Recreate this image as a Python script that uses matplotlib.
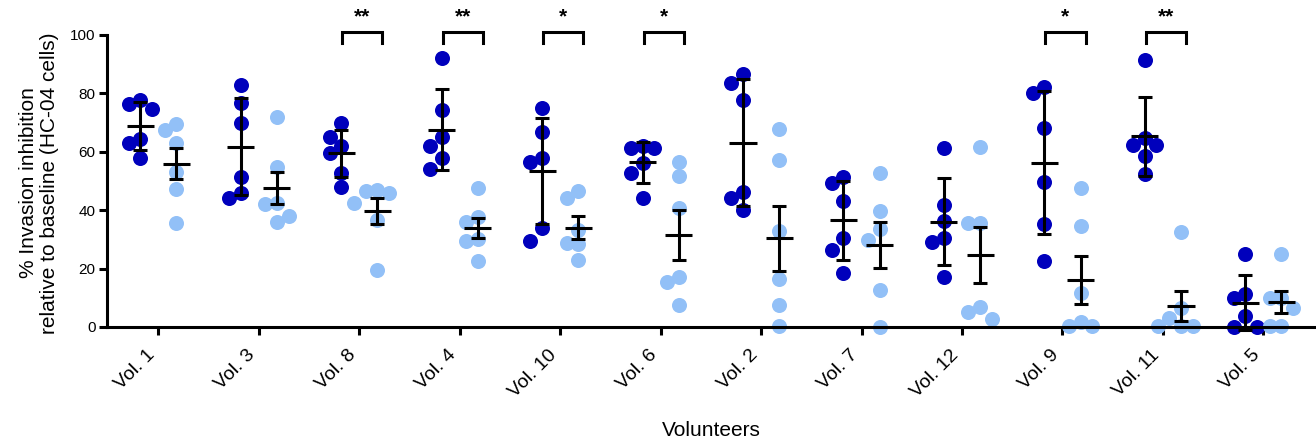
import numpy as np
import matplotlib
matplotlib.use("Agg")
import matplotlib.pyplot as plt

plt.rcParams['font.family'] = ['Liberation Sans', 'DejaVu Sans']

# ---------------- data ----------------
volunteers = ["Vol. 1", "Vol. 3", "Vol. 8", "Vol. 4", "Vol. 10", "Vol. 6",
              "Vol. 2", "Vol. 7", "Vol. 12", "Vol. 9", "Vol. 11", "Vol. 5"]

# dark blue group (error bars: mean ± SD)
dark_values = [
    [77.7, 76.3, 74.5, 64.3, 62.9, 57.8],   # Vol. 1
    [82.9, 76.6, 69.8, 51.3, 46.0, 44.1],   # Vol. 3
    [69.8, 65.2, 62.0, 59.7, 52.6, 47.8],   # Vol. 8
    [92.0, 74.3, 65.2, 62.0, 57.8, 54.1],   # Vol. 4
    [75.1, 66.9, 58.0, 56.6, 33.8, 29.6],   # Vol. 10
    [62.0, 61.4, 61.4, 56.3, 52.8, 44.3],   # Vol. 6
    [86.6, 83.7, 77.7, 46.3, 44.1, 40.1],   # Vol. 2
    [51.5, 49.2, 43.2, 30.4, 26.4, 18.4],   # Vol. 7
    [61.4, 41.8, 36.3, 30.4, 29.2, 17.2],   # Vol. 12
    [82.1, 80.3, 68.0, 49.6, 35.2, 22.7],   # Vol. 9
    [91.4, 64.6, 62.5, 62.3, 58.6, 52.4],   # Vol. 11
    [24.9, 11.2, 9.8, 3.8, 0.1, 0.1],       # Vol. 5
]

# light blue group (error bars: mean ± SEM)
light_values = [
    [69.4, 67.5, 62.9, 53.2, 47.1, 35.5],   # Vol. 1
    [71.8, 54.9, 42.4, 42.0, 38.0, 36.1],   # Vol. 3
    [46.9, 46.7, 46.0, 42.4, 36.6, 19.5],   # Vol. 8
    [47.5, 37.8, 36.1, 30.0, 29.6, 22.6],   # Vol. 4
    [46.6, 44.3, 33.2, 28.9, 28.4, 22.9],   # Vol. 10
    [56.6, 51.7, 40.6, 17.0, 15.5, 7.5],    # Vol. 6
    [67.7, 57.2, 32.9, 16.3, 7.5, 0.3],     # Vol. 2
    [52.8, 39.7, 33.4, 29.8, 12.7, 0.1],    # Vol. 7
    [61.8, 35.7, 35.5, 6.7, 5.2, 2.6],      # Vol. 12
    [47.5, 34.7, 11.5, 1.8, 0.3, 0.3],      # Vol. 9
    [32.6, 6.4, 3.0, 0.3, 0.3, 0.3],        # Vol. 11
    [24.9, 9.8, 9.8, 6.4, 0.3, 0.3],        # Vol. 5
]

significance = ["", "", "**", "**", "*", "*", "", "", "", "*", "**", ""]

y_ticks = [0, 20, 40, 60, 80, 100]

# ---------------- style ----------------
DARK = "#0000BC"
LIGHT = "#92C0F7"
LW = 2.2
GROUP_OFF = 0.18
COL_STEP = 0.116
MIN_GAP = 4.8       # vertical gap (data units) before a dot moves to a side column
MEAN_HALF = 0.135
DOT_S = 117


def swarm_offsets(vals, min_gap):
    order = np.argsort(vals)[::-1]
    placed = []  # (col, value)
    offs = np.zeros(len(vals))
    for i in order:
        v = vals[i]
        for c in [0, -1, 1, -2, 2, -3, 3]:
            if all(abs(v - pv) >= min_gap for pc, pv in placed if pc == c):
                placed.append((c, v))
                offs[i] = c
                break
    return offs


fig = plt.figure(figsize=(13.16, 4.43), dpi=100)
ax = fig.add_axes([106.7 / 1316, (443 - 327) / 443, 1 - 106.7 / 1316, (327 - 35) / 443])

x = np.arange(len(volunteers))

for i in range(len(volunteers)):
    for vals, off, col, kind in ((dark_values[i], -GROUP_OFF, DARK, "sd"),
                                 (light_values[i], GROUP_OFF, LIGHT, "sem")):
        v = np.array(vals)
        xc = x[i] + off
        offs = swarm_offsets(v, MIN_GAP)
        ax.scatter(xc + offs * COL_STEP, v, s=DOT_S, color=col, linewidths=0,
                   zorder=2, clip_on=False)
        m = v.mean()
        sd = v.std(ddof=1)
        err = sd if kind == "sd" else sd / np.sqrt(len(v))
        ax.errorbar([xc], [m], yerr=[err], fmt='none', ecolor='black',
                    elinewidth=LW, capsize=4.7, capthick=LW, zorder=3, clip_on=False)
        ax.hlines(m, xc - MEAN_HALF, xc + MEAN_HALF, color='black', lw=LW, zorder=3)

for i, s in enumerate(significance):
    if s:
        x0 = x[i] - 0.17
        x1 = x[i] + 0.23
        ax.plot([x0, x0, x1, x1], [97.2, 100.9, 100.9, 97.2], color='black',
                lw=LW, clip_on=False, solid_joinstyle='miter')
        ax.text((x0 + x1) / 2, 106.2, s, ha='center', va='center',
                fontsize=15, fontweight='bold')

ax.set_xlim(-0.514, 11.524)
ax.set_ylim(0, 100)
ax.set_yticks(y_ticks)
ax.set_xticks(x)
ax.set_xticklabels(volunteers, rotation=45, ha='right', fontsize=14)
ax.tick_params(axis='y', labelsize=11, length=6, width=LW, pad=2)
ax.tick_params(axis='x', length=6, width=LW, pad=8)

for sp in ['top', 'right']:
    ax.spines[sp].set_visible(False)
for sp in ['left', 'bottom']:
    ax.spines[sp].set_linewidth(LW)

fig.text(39 / 1316, 1 - 183 / 443,
         "% Invasion inhibition\nrelative to baseline (HC-04 cells)",
         rotation=90, ha='center', va='center', fontsize=15, linespacing=1.1,
         multialignment='center')
fig.text(711 / 1316, 1 - 431 / 443, "Volunteers", ha='center', va='center',
         fontsize=15)

fig.savefig("out.png", dpi=100)
